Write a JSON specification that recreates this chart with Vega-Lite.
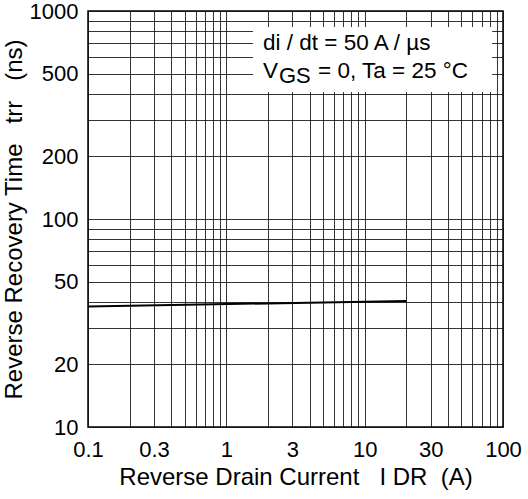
{
  "$schema": "https://vega.github.io/schema/vega-lite/v6.json",
  "width": 415,
  "height": 416,
  "autosize": {"type": "none"},
  "padding": {"left": 88, "top": 11, "right": 25, "bottom": 72},
  "background": "white",
  "config": {
    "view": {"stroke": "black", "strokeWidth": 1.5},
    "font": "Liberation Sans",
    "axis": {
      "labelFont": "Liberation Sans",
      "labelFontSize": 22,
      "labelColor": "black",
      "titleFont": "Liberation Sans",
      "titleFontSize": 24,
      "titleFontWeight": "normal",
      "titleColor": "black",
      "tickSize": 0,
      "domain": false,
      "grid": true,
      "gridColor": "#111",
      "gridWidth": 1,
      "gridOpacity": 0.85
    }
  },
  "datasets": {
    "curve": [
      {"current": 0.1, "trr": 38},
      {"current": 20, "trr": 40.3}
    ],
    "box": [
      {"x1": 1.56, "x2": 83.4, "y1": 408, "y2": 838}
    ],
    "notes": [
      {"x": 1.84, "y": 649, "t": "di / dt = 50 A / µs"},
      {"x": 1.84, "y": 476, "t": "V"},
      {"x": 4.6, "y": 476, "t": "= 0, Ta = 25 °C"}
    ],
    "subs": [
      {"x": 2.4, "y": 476, "t": "GS"}
    ]
  },
  "layer": [
    {
      "data": {"name": "box"},
      "mark": {"type": "rect", "fill": "white", "stroke": null},
      "encoding": {
        "x": {"field": "x1", "type": "quantitative", "scale": {"type": "log", "domain": [0.1, 100], "nice": false},
          "axis": {
            "values": [0.1,0.2,0.3,0.4,0.5,0.6,0.7,0.8,0.9,1,2,3,4,5,6,7,8,9,10,20,30,40,50,60,70,80,90,100],
            "labelExpr": "indexof([0.1,0.3,1,3,10,30,100], datum.value) >= 0 ? format(datum.value, '~g') : ''",
            "labelPadding": 12,
            "labelFlush": false,
            "labelOverlap": false,
            "title": "Reverse Drain Current\u00a0\u00a0\u00a0I\u00a0DR\u00a0\u00a0(A)",
            "titlePadding": 5
          }},
        "x2": {"field": "x2"},
        "y": {"field": "y1", "type": "quantitative", "scale": {"type": "log", "domain": [10, 1000], "nice": false},
          "axis": {
            "values": [10,20,30,40,50,60,70,80,90,100,200,300,400,500,600,700,800,900,1000],
            "labelExpr": "indexof([10,20,50,100,200,500,1000], datum.value) >= 0 ? format(datum.value, '~g') : ''",
            "labelPadding": 10,
            "labelFlush": false,
            "labelOverlap": false,
            "title": "Reverse Recovery Time\u00a0\u00a0\u00a0trr\u00a0\u00a0\u00a0(ns)",
            "titlePadding": 3
          }},
        "y2": {"field": "y2"}
      }
    },
    {
      "data": {"name": "curve"},
      "mark": {"type": "line", "color": "black", "strokeWidth": 2},
      "encoding": {
        "x": {"field": "current", "type": "quantitative"},
        "y": {"field": "trr", "type": "quantitative"}
      }
    },
    {
      "data": {"name": "notes"},
      "mark": {"type": "text", "align": "left", "baseline": "alphabetic", "fontSize": 22.5, "color": "black", "font": "Liberation Sans"},
      "encoding": {
        "x": {"field": "x", "type": "quantitative"},
        "y": {"field": "y", "type": "quantitative"},
        "text": {"field": "t"}
      }
    },
    {
      "data": {"name": "subs"},
      "mark": {"type": "text", "align": "left", "baseline": "alphabetic", "fontSize": 22, "dy": 5, "color": "black", "font": "Liberation Sans"},
      "encoding": {
        "x": {"field": "x", "type": "quantitative"},
        "y": {"field": "y", "type": "quantitative"},
        "text": {"field": "t"}
      }
    }
  ]
}
